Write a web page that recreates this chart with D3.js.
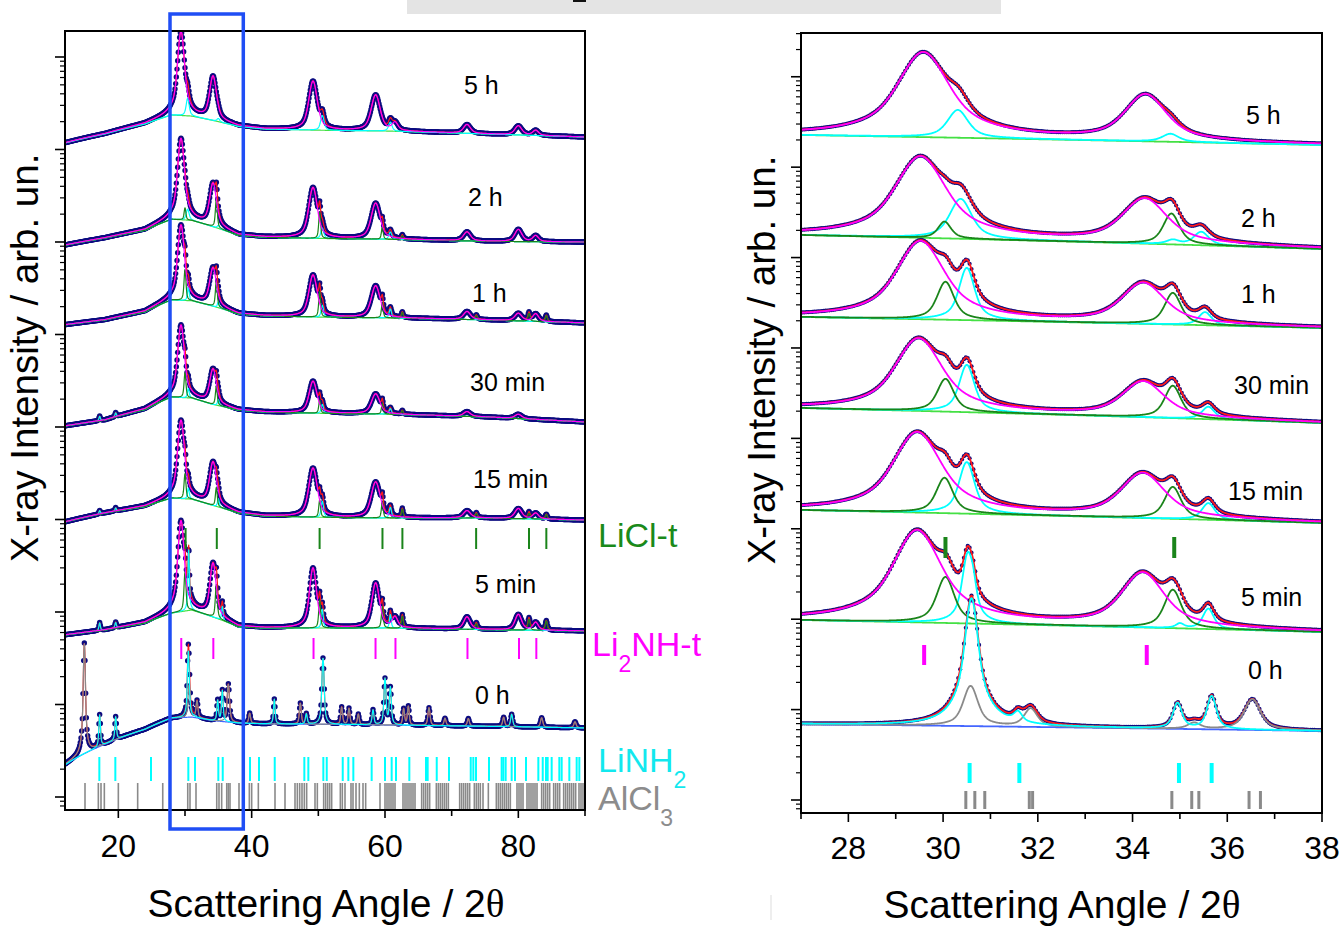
<!DOCTYPE html>
<html><head><meta charset="utf-8">
<script src="https://cdn.jsdelivr.net/npm/d3@7"></script>
<style>
body{margin:0;background:#fff;}
svg{display:block;font-family:"Liberation Sans",Arial,sans-serif;}
</style></head><body>
<svg id="c" width="1344" height="926"></svg>
<script>
// ---------------- DATA ----------------
const timeLabels = ["5 h", "2 h", "1 h", "30 min", "15 min", "5 min", "0 h"];

// Left panel (12-90 deg): background knots (ratio to plateau) and log10 level of each pattern
const bgAnglesL = [12, 18, 24, 28, 31, 34, 38, 42, 50, 60, 75, 90];
const levelL = [7.20, 6.03, 5.18, 4.14, 3.016, 1.827, 0.778];
const bgL_5h  = [0.742, 0.93, 1.19, 1.49, 1.45, 1.31, 1.12, 1.05, 1.02, 1.0, 0.93, 0.86];
const bgL_2h  = [0.861, 1.03, 1.25, 1.645, 1.6, 1.38, 1.1, 1.05, 1.02, 1.0, 0.95, 0.93];
const bgL_1h  = [0.84, 0.95, 1.16, 1.565, 1.53, 1.35, 1.1, 1.05, 1.02, 1.0, 0.95, 0.88];
const bgL_30m = [0.742, 0.86, 1.12, 1.53, 1.49, 1.28, 1.1, 1.05, 1.02, 1.0, 0.93, 0.82];
const bgL_15m = [0.905, 1.13, 1.33, 1.645, 1.6, 1.38, 1.13, 1.05, 1.02, 1.0, 1.0, 0.95];
const bgL_5m  = [0.84, 0.95, 1.13, 1.45, 1.565, 1.33, 1.03, 1.0, 1.0, 1.0, 0.96, 0.93];
const bgL_0h  = [0.37, 0.62, 0.9, 1.19, 1.22, 1.12, 1.05, 1.03, 1.02, 1.0, 0.97, 0.93];

// peaks: [position (2theta), height (ratio units), FWHM (deg)]
const li2nhL_5h = [[29.4,10.5,0.85],[34.2,2.6,1.0],[49.2,2.44,1.2],[58.6,1.45,1.35],[61.5,0.22,1.0],[72.3,0.23,1.2],[80.0,0.23,1.2],[82.6,0.12,1.0]];
const linh2L_5h = [[30.4,0.8,0.5],[35.0,0.1,0.5],[50.6,0.45,0.6],[60.8,0.25,0.6]];
const li2nhL_2h = [[29.4,10.7,0.85],[34.2,2.65,1.0],[49.2,2.6,1.2],[58.6,1.45,1.35],[72.3,0.24,1.2],[80.0,0.33,1.2],[82.6,0.15,1.0]];
const liclL_2h  = [[30.0,0.57,0.3],[34.7,1.4,0.3],[50.2,0.93,0.3],[59.6,0.35,0.3],[62.6,0.1,0.3]];
const linh2L_2h = [[30.4,0.5,0.5],[35.0,0.1,0.4],[50.6,0.3,0.5],[60.8,0.2,0.5]];
const li2nhL_1h = [[29.4,8.55,0.85],[34.2,2.12,1.0],[49.2,1.88,1.2],[58.6,1.22,1.35],[72.3,0.21,1.2],[80.0,0.19,1.2],[82.6,0.19,1.0]];
const liclL_1h  = [[30.0,1.8,0.3],[34.7,1.2,0.3],[50.2,0.9,0.3],[59.6,0.45,0.3],[62.6,0.15,0.3],[73.7,0.1,0.35],[81.6,0.2,0.35],[84.2,0.15,0.35]];
const linh2L_1h = [[30.5,0.6,0.3],[35.0,0.2,0.3],[50.6,0.35,0.4],[60.8,0.25,0.4]];
const li2nhL_30m = [[29.4,7.65,0.85],[34.2,1.78,1.0],[49.2,1.24,1.2],[58.6,0.65,1.35],[72.3,0.12,1.2],[80.0,0.1,1.2]];
const liclL_30m  = [[30.0,1.3,0.3],[34.7,0.75,0.3],[50.2,0.4,0.3],[59.6,0.3,0.3],[62.6,0.1,0.3]];
const linh2L_30m = [[17.2,0.1,0.25],[19.6,0.1,0.25],[30.5,0.4,0.3],[35.0,0.2,0.3],[50.6,0.25,0.4],[60.8,0.15,0.4]];
const li2nhL_15m = [[29.4,9.8,0.85],[34.2,2.65,1.0],[49.2,2.44,1.2],[58.6,1.45,1.35],[72.3,0.2,1.2],[80.0,0.28,1.2],[82.6,0.15,1.0]];
const liclL_15m  = [[30.0,1.4,0.3],[34.7,0.8,0.3],[50.2,0.55,0.3],[59.6,0.5,0.3],[62.6,0.25,0.3],[73.7,0.12,0.35],[81.6,0.15,0.35],[84.2,0.12,0.35]];
const linh2L_15m = [[17.2,0.1,0.25],[19.6,0.1,0.25],[30.5,0.5,0.3],[35.0,0.3,0.3],[50.6,0.5,0.4],[60.8,0.3,0.4]];
const li2nhL_5m = [[29.4,13.0,0.75],[34.2,3.7,0.85],[49.2,3.46,0.95],[58.6,2.07,1.1],[61.5,0.3,0.9],[72.3,0.35,1.1],[80.0,0.45,1.1],[82.6,0.2,0.9]];
const liclL_5m  = [[30.0,2.5,0.3],[34.7,1.7,0.3],[50.2,1.0,0.3],[59.6,0.7,0.3],[62.6,0.35,0.3],[73.7,0.15,0.35],[81.6,0.3,0.35],[84.2,0.25,0.35]];
const linh2L_5m = [[17.2,0.2,0.25],[19.6,0.15,0.25],[30.55,5.5,0.2],[35.6,0.5,0.25],[50.6,0.6,0.3],[60.8,0.4,0.3]];
const alcl3L_0h = [[14.9,7.2,0.25],[30.6,1.5,0.3],[31.8,0.63,0.3],[36.5,1.7,0.35],[39.7,0.3,0.3],[47.3,0.7,0.3],[53.5,0.55,0.3],[54.6,0.5,0.3],[56.0,0.3,0.3],[62.8,0.5,0.3],[63.5,0.6,0.3],[66.6,0.55,0.35],[69.0,0.2,0.35],[72.5,0.2,0.35],[77.8,0.25,0.35],[83.5,0.25,0.4],[88.5,0.15,0.4]];
const linh2L_0h = [[17.2,0.7,0.25],[19.6,0.54,0.25],[30.5,5.2,0.25],[34.9,0.76,0.25],[35.6,1.28,0.25],[43.4,0.88,0.25],[48.2,0.3,0.3],[50.7,4.3,0.3],[58.2,0.45,0.3],[60.0,2.2,0.3],[60.8,1.57,0.3],[79.0,0.35,0.35]];

// Right panel (27-38 deg)
const bgAnglesR = [27, 38];
const levelR = [7.356, 6.25, 5.343, 4.336, 3.208, 1.991, 0.841];
const bgR_5h = [1.0, 0.775], bgR_2h = [1.0, 0.70], bgR_1h = [1.0, 0.756], bgR_30m = [1.0, 0.683],
      bgR_15m = [1.0, 0.718], bgR_5m = [1.0, 0.737], bgR_0h = [1.0, 0.837];
const li2nhR_5h = [[29.58,7.3,0.86],[34.27,1.95,0.82]];
const linh2R_5h = [[30.31,0.96,0.45],[34.8,0.19,0.4]];
const li2nhR_2h = [[29.52,6.5,0.86],[34.25,1.72,0.9]];
const liclR_2h  = [[30.03,0.49,0.3],[34.82,0.94,0.35]];
const linh2R_2h = [[30.37,1.6,0.45],[34.85,0.09,0.3],[35.45,0.31,0.35]];
const li2nhR_1h = [[29.52,6.0,0.82],[34.22,1.54,0.88]];
const liclR_1h  = [[30.05,1.52,0.35],[34.85,1.02,0.35]];
const linh2R_1h = [[30.5,2.57,0.3],[35.53,0.32,0.3]];
const li2nhR_30m = [[29.48,5.0,0.82],[34.22,1.17,0.88]];
const liclR_30m  = [[30.05,1.19,0.35],[34.85,0.99,0.35]];
const linh2R_30m = [[30.5,2.1,0.3],[35.6,0.28,0.3]];
const li2nhR_15m = [[29.45,6.37,0.82],[34.21,1.74,0.88]];
const liclR_15m  = [[30.03,1.35,0.35],[34.85,1.0,0.35]];
const linh2R_15m = [[30.5,2.48,0.3],[35.6,0.41,0.3]];
const li2nhR_5m = [[29.45,8.97,0.78],[34.21,2.52,0.82]];
const liclR_5m  = [[30.05,2.07,0.35],[34.85,1.35,0.35]];
const linh2R_5m = [[30.52,4.3,0.2],[30.62,1.24,0.15],[35.0,0.1,0.2],[35.6,0.54,0.25]];
const linh2R_0h = [[30.6,23.7,0.2],[31.58,0.3,0.2],[34.95,0.82,0.2],[35.67,1.16,0.2]];
const alcl3R_0h = [[30.58,1.69,0.3],[31.85,0.55,0.3],[35.3,0.15,0.3],[36.53,1.02,0.35]];

// reflection markers
const liclTicksL  = [30.09, 34.77, 50.19, 59.62, 62.61, 73.67, 81.6, 84.2];
const li2nhTicksL = [29.44, 34.25, 49.28, 58.58, 61.57, 72.37, 80.1, 82.7];
const linh2TicksL = [17.15, 19.55, 24.9, 30.5, 31.5, 35.0, 35.66, 39.75, 41.1, 43.46, 47.9, 48.5, 50.75, 51.26, 53.66, 54.5, 55.25, 58.0, 60.0, 61.0, 61.65, 63.65, 66.15, 66.4, 67.76, 69.6, 72.86, 73.25, 73.65, 75.6, 77.5, 77.75, 78.1, 79.0, 79.5, 81.15, 83.0, 83.66, 84.15, 84.4, 85.0, 86.15, 86.5, 87.65, 88.75, 89.15];
const alcl3TicksL = [15.0, 17.0, 17.4, 17.9, 20.0, 22.9, 26.66, 30.41, 30.75, 31.65, 34.76, 35.1, 35.5, 36.26, 36.5, 36.75, 38.1, 39.65, 40.0, 41.0, 43.5, 45.0, 46.5, 46.85, 47.2, 47.55, 47.9, 48.25, 49.5, 49.85,
  50.8, 51.1, 51.4, 51.7, 52.0, 53.3, 53.6, 54.0, 54.9, 55.2, 55.65, 56.15, 56.7, 57.1, 59.25, 60.0, 60.3, 60.6, 60.9, 61.2, 61.5, 62.7, 63.0, 63.3, 63.6, 63.9, 64.2, 64.5, 65.5, 65.8, 66.1, 66.4, 66.7,
  67.7, 68.0, 68.3, 68.6, 68.9, 69.2, 69.5, 71.2, 71.5, 71.8, 72.1, 72.4, 72.7, 73.4, 73.7, 74.0, 74.3, 74.7, 75.5, 76.7, 77.0, 77.3, 77.6, 77.9, 78.2, 78.5, 78.8, 79.8, 80.1, 80.4, 80.7,
  81.3, 81.6, 81.9, 82.2, 82.5, 82.8, 83.5, 83.8, 84.1, 84.4, 84.7, 85.3, 85.6, 85.9, 86.2, 86.8, 87.1, 87.4, 87.7, 88.0, 88.3, 88.6, 89.1, 89.4, 89.7];
const liclTicksR  = [30.05, 34.88];
const li2nhTicksR = [29.6, 34.3];
const linh2TicksR = [30.56, 31.61, 34.98, 35.67];
const alcl3TicksR = [30.48, 30.67, 30.88, 31.82, 31.89, 34.83, 35.25, 35.4, 36.46, 36.7];

const xTicksL = [20, 40, 60, 80], xMinorL = [30, 50, 70, 90];
const xTicksR = [28, 30, 32, 34, 36, 38], xMinorR = [27, 29, 31, 33, 35, 37];

// ---------------- DRAWING ----------------
const C = {navy:"#0c0c80", red:"#ff1a1a", mag:"#ff00ff", cyan:"#00ffff", dkg:"#1a841a", lg:"#44e044", gray:"#8a8a8a", blue:"#4466ff"};
const svg = d3.select("#c");
const defs = svg.append("defs");

const xL = d3.scaleLinear().domain([12, 90]).range([65, 585]);
const yL = d3.scaleLog().domain([Math.pow(10, -0.1405), Math.pow(10, 8.281)]).range([810, 31]);
const xR = d3.scaleLinear().domain([27, 38]).range([801, 1322]);
const yR = d3.scaleLog().domain([Math.pow(10, -0.1438), Math.pow(10, 8.484)]).range([813, 33]);

const leftPats = [
  {lvl:levelL[0], bg:bgL_5h, li2nh:li2nhL_5h, licl:[], linh2:linh2L_5h, alcl3:[]},
  {lvl:levelL[1], bg:bgL_2h, li2nh:li2nhL_2h, licl:liclL_2h, linh2:linh2L_2h, alcl3:[]},
  {lvl:levelL[2], bg:bgL_1h, li2nh:li2nhL_1h, licl:liclL_1h, linh2:linh2L_1h, alcl3:[]},
  {lvl:levelL[3], bg:bgL_30m, li2nh:li2nhL_30m, licl:liclL_30m, linh2:linh2L_30m, alcl3:[]},
  {lvl:levelL[4], bg:bgL_15m, li2nh:li2nhL_15m, licl:liclL_15m, linh2:linh2L_15m, alcl3:[]},
  {lvl:levelL[5], bg:bgL_5m, li2nh:li2nhL_5m, licl:liclL_5m, linh2:linh2L_5m, alcl3:[]},
  {lvl:levelL[6], bg:bgL_0h, li2nh:[], licl:[], linh2:linh2L_0h, alcl3:alcl3L_0h, zero:true}
];
const rightPats = [
  {lvl:levelR[0], bg:bgR_5h, li2nh:li2nhR_5h, licl:[], linh2:linh2R_5h, alcl3:[]},
  {lvl:levelR[1], bg:bgR_2h, li2nh:li2nhR_2h, licl:liclR_2h, linh2:linh2R_2h, alcl3:[]},
  {lvl:levelR[2], bg:bgR_1h, li2nh:li2nhR_1h, licl:liclR_1h, linh2:linh2R_1h, alcl3:[]},
  {lvl:levelR[3], bg:bgR_30m, li2nh:li2nhR_30m, licl:liclR_30m, linh2:linh2R_30m, alcl3:[]},
  {lvl:levelR[4], bg:bgR_15m, li2nh:li2nhR_15m, licl:liclR_15m, linh2:linh2R_15m, alcl3:[]},
  {lvl:levelR[5], bg:bgR_5m, li2nh:li2nhR_5m, licl:liclR_5m, linh2:linh2R_5m, alcl3:[]},
  {lvl:levelR[6], bg:bgR_0h, li2nh:[], licl:[], linh2:linh2R_0h, alcl3:alcl3R_0h, zero:true}
];

function pv(a, p, eta) {
  const d = (a - p[0]) / (p[2] / 2), d2 = d * d;
  return p[1] * (eta / (1 + d2) + (1 - eta) * Math.exp(-Math.LN2 * d2));
}

function drawPanel(id, x, y, bgAngles, pats, step, dotStep, dotR, lw, eta) {
  const [x0, x1] = x.range(), [yb, yt] = y.range();
  defs.append("clipPath").attr("id", id).append("rect")
    .attr("x", x0).attr("y", yt).attr("width", x1 - x0).attr("height", yb - yt);
  const g = svg.append("g").attr("clip-path", `url(#${id})`);
  const [a0, a1] = x.domain();
  const grid = d3.range(a0, a1 + step / 2, step);
  const dgrid = d3.range(a0, a1 + dotStep / 2, dotStep);
  const sumP = (arr, a) => arr.reduce((s, q) => s + pv(a, q, eta), 0);
  pats.forEach(p => {
    const bgS = d3.scaleLinear().domain(bgAngles).range(p.bg).clamp(true);
    const k = Math.pow(10, p.lvl);
    const total = a => k * (bgS(a) + sumP(p.li2nh, a) + sumP(p.licl, a) + sumP(p.linh2, a) + sumP(p.alcl3, a));
    const comp = arr => (a => k * (bgS(a) + sumP(arr, a)));
    const gp = g.append("g");
    gp.append("g").selectAll("circle").data(dgrid).join("circle")
      .attr("cx", a => x(a)).attr("cy", a => y(total(a))).attr("r", dotR).attr("fill", C.navy);
    const path = (f, col, w) => gp.append("path")
      .attr("d", d3.line().x(a => x(a)).y(a => y(f(a)))(grid))
      .attr("fill", "none").attr("stroke", col).attr("stroke-width", w).attr("stroke-linejoin", "round");
    path(total, C.red, lw);
    path(comp([]), p.zero ? C.blue : C.lg, lw);
    if (p.alcl3.length) path(comp(p.alcl3), C.gray, lw);
    if (p.linh2.length) path(comp(p.linh2), C.cyan, lw);
    if (p.licl.length) path(comp(p.licl), C.dkg, lw);
    if (p.li2nh.length) path(comp(p.li2nh), C.mag, lw);
  });
}

drawPanel("clipL", xL, yL, bgAnglesL, leftPats, 0.04, 0.1, 2.7, 1.2, 0.6);
drawPanel("clipR", xR, yR, bgAnglesR, rightPats, 0.01, 0.04, 2.1, 1.8, 0.7);

// reflection markers
function markers(x, vals, yTop, yBot, col, w) {
  svg.append("g").selectAll("line").data(vals).join("line")
    .attr("x1", d => x(d)).attr("x2", d => x(d)).attr("y1", yTop).attr("y2", yBot)
    .attr("stroke", col).attr("stroke-width", w);
}
markers(xL, liclTicksL, 528, 549, C.dkg, 2);
markers(xL, li2nhTicksL, 638, 659, C.mag, 2);
markers(xL, linh2TicksL, 757, 781, C.cyan, 2);
markers(xL, alcl3TicksL, 783, 809, C.gray, 1.6);
markers(xR, liclTicksR, 537, 558, C.dkg, 4);
markers(xR, li2nhTicksR, 645, 665, C.mag, 4);
markers(xR, linh2TicksR, 763, 783, C.cyan, 4);
markers(xR, alcl3TicksR, 791, 809, C.gray, 3);

// axes / frames
function frame(x, y, major, minor, majLen, minLen, labelBase, fs) {
  const [x0, x1] = x.range(), [yb, yt] = y.range();
  const g = svg.append("g");
  const [d0, d1] = y.domain();
  const majY = [], minY = [];
  for (let n = -1; n <= 9; n++) {
    const v = Math.pow(10, n);
    if (v >= d0 && v <= d1) majY.push(v);
    for (let m = 2; m <= 9; m++) { const w = m * v; if (w >= d0 && w <= d1) minY.push(w); }
  }
  g.selectAll(".ymaj").data(majY).join("line").attr("class","ymaj").attr("x1", x0 - 10).attr("x2", x0).attr("y1", d => y(d)).attr("y2", d => y(d)).attr("stroke", "#000").attr("stroke-width", 1.6);
  g.selectAll(".ymin").data(minY).join("line").attr("class","ymin").attr("x1", x0 - 5).attr("x2", x0).attr("y1", d => y(d)).attr("y2", d => y(d)).attr("stroke", "#000").attr("stroke-width", 1.2);
  g.selectAll(".xmaj").data(major).join("line").attr("class","xmaj").attr("x1", d => x(d)).attr("x2", d => x(d)).attr("y1", yb).attr("y2", yb + majLen).attr("stroke", "#000").attr("stroke-width", 1.6);
  g.selectAll(".xmin").data(minor).join("line").attr("class","xmin").attr("x1", d => x(d)).attr("x2", d => x(d)).attr("y1", yb).attr("y2", yb + minLen).attr("stroke", "#000").attr("stroke-width", 1.6);
  g.selectAll(".xl").data(major).join("text").attr("class","xl").attr("x", d => x(d)).attr("y", labelBase)
    .attr("text-anchor", "middle").attr("font-size", fs).text(d => d);
  g.append("rect").attr("x", x0).attr("y", yt).attr("width", x1 - x0).attr("height", yb - yt)
    .attr("fill", "none").attr("stroke", "#000").attr("stroke-width", 2);
}
frame(xL, yL, xTicksL, xMinorL, 8, 6, 857, 32);
frame(xR, yR, xTicksR, xMinorR, 9, 6, 859, 32);

// axis titles
function xTitle(cx, base) {
  const t = svg.append("text").attr("x", cx).attr("y", base).attr("text-anchor", "middle").attr("font-size", 39);
  t.append("tspan").text("Scattering Angle / 2");
  t.append("tspan").attr("font-family", "'Liberation Serif','DejaVu Serif',serif").text("θ");
}
xTitle(326, 917);
xTitle(1062, 918);
function yTitle(bx, cy) {
  svg.append("text").attr("transform", `translate(${bx},${cy}) rotate(-90)`).attr("text-anchor", "middle")
    .attr("font-size", 38.5).text("X-ray Intensity / arb. un.");
}
yTitle(38, 358);
yTitle(775, 360);

// time labels
const tlL = [[464, 94], [468, 206], [472, 302], [470, 391], [473, 488], [475, 593], [475, 704]];
const tlR = [[1246, 124], [1241, 227], [1241, 303], [1234, 394], [1228, 500], [1241, 606], [1248, 679]];
timeLabels.forEach((t, i) => {
  svg.append("text").attr("x", tlL[i][0]).attr("y", tlL[i][1]).attr("font-size", 25).text(t);
  svg.append("text").attr("x", tlR[i][0]).attr("y", tlR[i][1]).attr("font-size", 25).text(t);
});

// phase labels
function phaseLabel(xp, base, col, main, sub, tail) {
  const t = svg.append("text").attr("x", xp).attr("y", base).attr("font-size", 34).attr("fill", col);
  t.append("tspan").text(main);
  if (sub) t.append("tspan").attr("font-size", 23).attr("dy", 16).text(sub);
  if (tail) t.append("tspan").attr("dy", -16).text(tail);
}
phaseLabel(598, 547, "#1a8a1a", "LiCl-t");
phaseLabel(592, 656, C.mag, "Li", "2", "NH-t");
phaseLabel(598, 772, "#12e8ee", "LiNH", "2");
phaseLabel(598, 810, "#8c8c8c", "AlCl", "3");

// highlight box in left panel (the 27-38 deg region)
svg.append("rect").attr("x", 170).attr("y", 14).attr("width", 73.3).attr("height", 815)
  .attr("fill", "none").attr("stroke", "#1f4ef5").attr("stroke-width", 3.5);

// header strip (cropped) and small artefacts
svg.append("rect").attr("x", 407).attr("y", 0).attr("width", 594).attr("height", 14).attr("fill", "#e4e4e4");
svg.append("rect").attr("x", 573).attr("y", 0).attr("width", 13).attr("height", 2).attr("fill", "#111");
svg.append("line").attr("x1", 771).attr("x2", 771).attr("y1", 895).attr("y2", 920).attr("stroke", "#ddd").attr("stroke-width", 1);
</script>
</body></html>
